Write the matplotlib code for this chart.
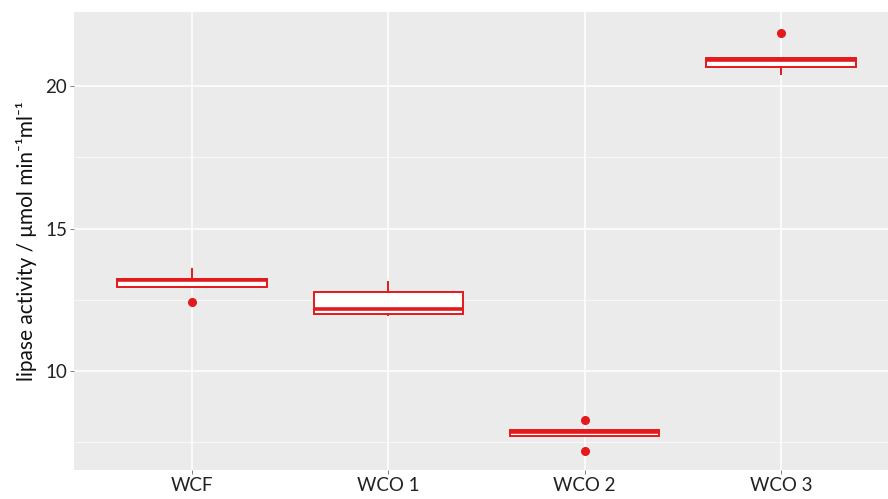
import matplotlib
matplotlib.use('Agg')
import matplotlib.pyplot as plt

# ── Data ──────────────────────────────────────────────────────
groups  = ['WCF', 'WCO 1', 'WCO 2', 'WCO 3']
q1      = [12.95, 12.02, 7.74, 20.66]
median  = [13.20, 12.18, 7.86, 20.93]
q3      = [13.23, 12.79, 7.93, 20.97]
whislo  = [12.95, 11.96, 7.74, 20.42]
whishi  = [13.58, 13.13, 7.93, 20.97]
fliers  = [[12.42], [], [8.28, 7.19], [21.87]]

RED  = '#E3191C'
BG   = '#EBEBEB'

plt.rcParams['font.family'] = ['Lato', 'DejaVu Sans']

stats = [dict(med=m, q1=a, q3=b, whislo=lo, whishi=hi, fliers=f, label=g)
         for g, a, m, b, lo, hi, f in zip(groups, q1, median, q3, whislo, whishi, fliers)]

fig = plt.figure(figsize=(8.88, 4.99), dpi=100)
# panel runs past the right edge, as in the cropped original
ax = fig.add_axes([0.0835, 0.058, 0.9286, 0.918])
ax.set_facecolor(BG)

pos = list(range(1, len(groups) + 1))
ax.bxp(stats, positions=pos, widths=0.76, patch_artist=True, showcaps=False,
       boxprops=dict(facecolor='white', edgecolor=RED, linewidth=1.4),
       medianprops=dict(color=RED, linewidth=2.6),
       whiskerprops=dict(color=RED, linewidth=1.4),
       flierprops=dict(marker='o', markerfacecolor=RED, markeredgecolor=RED,
                       markersize=5.5))

ax.set_xlim(0.4, 4.6)
ax.set_ylim(6.53, 22.6)
ax.set_xticks(pos)
ax.set_xticklabels(groups)
ax.set_yticks([10, 15, 20])
ax.set_yticks([7.5, 12.5, 17.5], minor=True)
ax.set_xticks([], minor=True)

ax.grid(True, which='major', color='white', linewidth=1.1)
ax.grid(True, which='minor', axis='y', color='white', linewidth=0.5)
ax.set_axisbelow(True)
for s in ax.spines.values():
    s.set_visible(False)

ax.tick_params(which='major', length=3, width=0.7, color='#7F7F7F',
               labelsize=13.5, labelcolor='#222222', pad=2)
ax.tick_params(which='minor', length=0)
ax.set_ylabel('lipase activity / μmol min⁻¹ml⁻¹', fontsize=15, color='#111111',
              labelpad=6)

fig.savefig('out.png', dpi=100)
